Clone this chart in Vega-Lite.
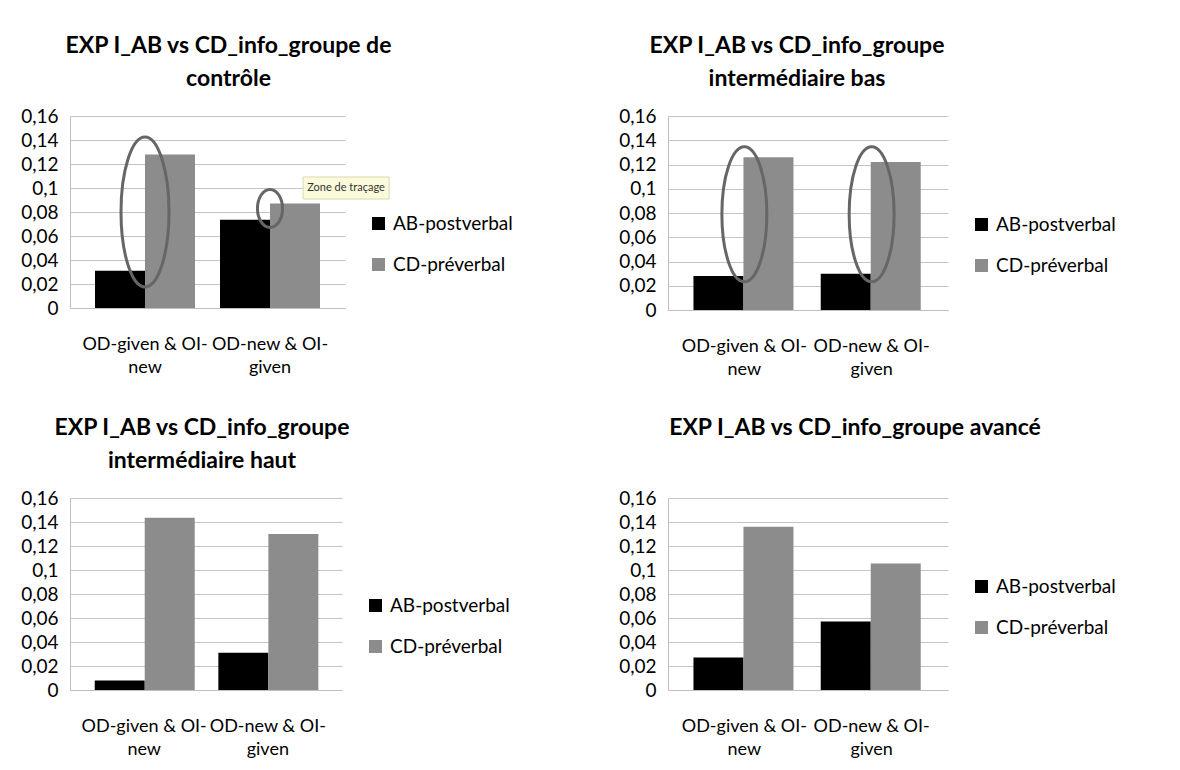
{
  "$schema": "https://vega.github.io/schema/vega-lite/v6.json",
  "background": "white",
  "padding": {"left": 20, "top": 35, "right": 5, "bottom": 5},
  "datasets": {
    "bars": [
      {"panel": 1, "cat": "OD-given & OI-new", "series": "AB-postverbal", "value": 0.031},
      {"panel": 1, "cat": "OD-given & OI-new", "series": "CD-préverbal", "value": 0.128},
      {"panel": 1, "cat": "OD-new & OI-given", "series": "AB-postverbal", "value": 0.0735},
      {"panel": 1, "cat": "OD-new & OI-given", "series": "CD-préverbal", "value": 0.087},
      {"panel": 2, "cat": "OD-given & OI-new", "series": "AB-postverbal", "value": 0.028},
      {"panel": 2, "cat": "OD-given & OI-new", "series": "CD-préverbal", "value": 0.126},
      {"panel": 2, "cat": "OD-new & OI-given", "series": "AB-postverbal", "value": 0.030},
      {"panel": 2, "cat": "OD-new & OI-given", "series": "CD-préverbal", "value": 0.122},
      {"panel": 3, "cat": "OD-given & OI-new", "series": "AB-postverbal", "value": 0.008},
      {"panel": 3, "cat": "OD-given & OI-new", "series": "CD-préverbal", "value": 0.1435},
      {"panel": 3, "cat": "OD-new & OI-given", "series": "AB-postverbal", "value": 0.031},
      {"panel": 3, "cat": "OD-new & OI-given", "series": "CD-préverbal", "value": 0.130},
      {"panel": 4, "cat": "OD-given & OI-new", "series": "AB-postverbal", "value": 0.027},
      {"panel": 4, "cat": "OD-given & OI-new", "series": "CD-préverbal", "value": 0.136},
      {"panel": 4, "cat": "OD-new & OI-given", "series": "AB-postverbal", "value": 0.057},
      {"panel": 4, "cat": "OD-new & OI-given", "series": "CD-préverbal", "value": 0.1055}
    ],
    "marks": [
      {"panel": 1, "kind": "big", "cat": "OD-given & OI-new", "value": 0.08},
      {"panel": 1, "kind": "small", "cat": "OD-new & OI-given", "value": 0.083},
      {"panel": 2, "kind": "big", "cat": "OD-given & OI-new", "value": 0.079},
      {"panel": 2, "kind": "big", "cat": "OD-new & OI-given", "value": 0.079}
    ],
    "notes": [
      {"panel": 1, "cat": "OD-new & OI-given", "value": 0.1, "label": "Zone de traçage"}
    ]
  },
  "columns": 2,
  "spacing": {"column": 105, "row": 39},
  "resolve": {"scale": {"color": "independent"}, "legend": {"color": "independent"}},
  "concat": [
    {
      "width": 275, "height": 192,
      "title": {"text": ["EXP I_AB vs CD_info_groupe de", "contrôle"], "dx": 21},
      "layer": [
        {
          "data": {"name": "bars"},
          "transform": [{"filter": "datum.panel == 1"}],
          "mark": "bar",
          "encoding": {
            "x": {"field": "cat", "type": "nominal"},
            "xOffset": {"field": "series", "type": "nominal"},
            "y": {"field": "value", "type": "quantitative", "scale": {"domain": [0, 0.16], "nice": false}, "axis": {"values": [0, 0.02, 0.04, 0.06, 0.08, 0.1, 0.12, 0.14, 0.16]}},
            "color": {"field": "series", "type": "nominal", "legend": {"orient": "none", "legendX": 299, "legendY": 98}}
          }
        },
        {
          "data": {"name": "marks"},
          "transform": [{"filter": "datum.panel == 1 && datum.kind == 'big'"}],
          "mark": {"type": "point", "shape": "M0,-1A0.32,1,0,1,1,0,1A0.32,1,0,1,1,0,-1Z", "size": 22500, "filled": false, "stroke": "#666666", "strokeWidth": 3, "opacity": 1},
          "encoding": {
            "x": {"field": "cat", "type": "nominal"},
            "y": {"field": "value", "type": "quantitative", "axis": {"values": [0, 0.02, 0.04, 0.06, 0.08, 0.1, 0.12, 0.14, 0.16]}}
          }
        },
        {
          "data": {"name": "marks"},
          "transform": [{"filter": "datum.panel == 1 && datum.kind == 'small'"}],
          "mark": {"type": "point", "shape": "M0,-1A0.66,1,0,1,1,0,1A0.66,1,0,1,1,0,-1Z", "size": 1444, "filled": false, "stroke": "#666666", "strokeWidth": 3, "opacity": 1},
          "encoding": {
            "x": {"field": "cat", "type": "nominal"},
            "y": {"field": "value", "type": "quantitative", "axis": {"values": [0, 0.02, 0.04, 0.06, 0.08, 0.1, 0.12, 0.14, 0.16]}}
          }
        },
        {
          "data": {"name": "notes"},
          "mark": {"type": "point", "shape": "M0.77,-0.256H2.77V0.256H0.77Z", "size": 7396, "filled": true, "fill": "#fbfbdc", "stroke": "#d8d8b0", "strokeWidth": 1, "opacity": 1},
          "encoding": {
            "x": {"field": "cat", "type": "nominal"},
            "y": {"field": "value", "type": "quantitative", "axis": {"values": [0, 0.02, 0.04, 0.06, 0.08, 0.1, 0.12, 0.14, 0.16]}}
          }
        },
        {
          "data": {"name": "notes"},
          "mark": {"type": "text", "dx": 76, "align": "center", "baseline": "middle", "fontSize": 11, "font": "Lato", "color": "#333333"},
          "encoding": {
            "x": {"field": "cat", "type": "nominal"},
            "y": {"field": "value", "type": "quantitative", "axis": {"values": [0, 0.02, 0.04, 0.06, 0.08, 0.1, 0.12, 0.14, 0.16]}},
            "text": {"field": "label"}
          }
        }
      ]
    },
    {
      "width": 280, "height": 194,
      "title": {"text": ["EXP I_AB vs CD_info_groupe", "intermédiaire bas"], "dx": -11},
      "layer": [
        {
          "data": {"name": "bars"},
          "transform": [{"filter": "datum.panel == 2"}],
          "mark": "bar",
          "encoding": {
            "x": {"field": "cat", "type": "nominal"},
            "xOffset": {"field": "series", "type": "nominal"},
            "y": {"field": "value", "type": "quantitative", "scale": {"domain": [0, 0.16], "nice": false}, "axis": {"values": [0, 0.02, 0.04, 0.06, 0.08, 0.1, 0.12, 0.14, 0.16]}},
            "color": {"field": "series", "type": "nominal", "legend": {"orient": "none", "legendX": 304, "legendY": 99}}
          }
        },
        {
          "data": {"name": "marks"},
          "transform": [{"filter": "datum.panel == 2"}],
          "mark": {"type": "point", "shape": "M0,-1A0.333,1,0,1,1,0,1A0.333,1,0,1,1,0,-1Z", "size": 18225, "filled": false, "stroke": "#666666", "strokeWidth": 3, "opacity": 1},
          "encoding": {
            "x": {"field": "cat", "type": "nominal"},
            "y": {"field": "value", "type": "quantitative", "axis": {"values": [0, 0.02, 0.04, 0.06, 0.08, 0.1, 0.12, 0.14, 0.16]}}
          }
        }
      ]
    },
    {
      "width": 272, "height": 192,
      "title": {"text": ["EXP I_AB vs CD_info_groupe", "intermédiaire haut"], "dx": -4},
      "layer": [
        {
          "data": {"name": "bars"},
          "transform": [{"filter": "datum.panel == 3"}],
          "mark": "bar",
          "encoding": {
            "x": {"field": "cat", "type": "nominal"},
            "xOffset": {"field": "series", "type": "nominal"},
            "y": {"field": "value", "type": "quantitative", "scale": {"domain": [0, 0.16], "nice": false}, "axis": {"values": [0, 0.02, 0.04, 0.06, 0.08, 0.1, 0.12, 0.14, 0.16]}},
            "color": {"field": "series", "type": "nominal", "legend": {"orient": "none", "legendX": 296, "legendY": 98}}
          }
        }
      ]
    },
    {
      "width": 280, "height": 192,
      "title": {"text": ["EXP I_AB vs CD_info_groupe avancé", " "], "dx": 47},
      "layer": [
        {
          "data": {"name": "bars"},
          "transform": [{"filter": "datum.panel == 4"}],
          "mark": "bar",
          "encoding": {
            "x": {"field": "cat", "type": "nominal"},
            "xOffset": {"field": "series", "type": "nominal"},
            "y": {"field": "value", "type": "quantitative", "scale": {"domain": [0, 0.16], "nice": false}, "axis": {"values": [0, 0.02, 0.04, 0.06, 0.08, 0.1, 0.12, 0.14, 0.16]}},
            "color": {"field": "series", "type": "nominal", "legend": {"orient": "none", "legendX": 304, "legendY": 79}}
          }
        }
      ]
    }
  ],
  "config": {
    "font": "Lato",
    "view": {"stroke": null},
    "title": {"fontSize": 23, "fontWeight": "bold", "font": "Lato", "color": "#000000", "lineHeight": 33, "anchor": "middle", "offset": 16},
    "scale": {"bandPaddingInner": 0.43, "bandPaddingOuter": 0.215, "offsetBandPaddingInner": 0, "offsetBandPaddingOuter": 0},
    "range": {"category": ["#000000", "#8c8c8c"]},
    "bar": {"stroke": null},
    "axisX": {
      "title": null, "labelAngle": 0, "ticks": false, "domainColor": "#bfbfbf", "labelFontSize": 18, "labelColor": "#000000",
      "labelPadding": 27, "labelLineHeight": 23, "labelBaseline": "top", "labelLimit": 300, "labelOverlap": false,
      "labelExpr": "datum.label == 'OD-given & OI-new' ? ['OD-given & OI-', 'new'] : ['OD-new & OI-', 'given']",
      "grid": false
    },
    "axisY": {
      "title": null, "ticks": false, "domainColor": "#bfbfbf", "gridColor": "#c4c4c4", "gridOpacity": 1,
      "labelFontSize": 19, "labelColor": "#000000", "labelPadding": 12, "labelOverlap": false,
      "labelExpr": "replace(toString(datum.value), '.', ',')"
    },
    "legend": {
      "title": null, "symbolType": "square", "symbolSize": 170, "symbolStrokeWidth": 0,
      "labelFontSize": 19, "labelColor": "#000000", "rowPadding": 21, "labelOffset": 5
    }
  }
}
